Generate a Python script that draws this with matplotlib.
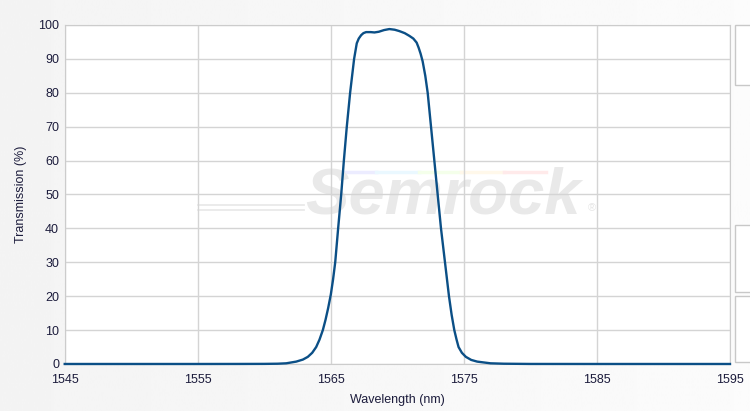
import numpy as np
import matplotlib
matplotlib.use("Agg")
import matplotlib.pyplot as plt
from matplotlib.patches import Rectangle

plt.rcParams['font.family'] = ['Liberation Sans', 'DejaVu Sans']

# Filter transmission
wavelength = [1545, 1550, 1555, 1558, 1560, 1561.0, 1561.65, 1562.4, 1562.9, 1563.27,
              1563.6, 1563.9, 1564.15, 1564.4, 1564.6, 1564.8, 1565.0, 1565.17, 1565.33,
              1565.55, 1565.78, 1565.98, 1566.2, 1566.45, 1566.75, 1566.95, 1567.1,
              1567.28, 1567.45, 1567.65, 1568.0, 1568.28, 1568.6, 1569.0, 1569.4,
              1569.8, 1570.15, 1570.55, 1570.9, 1571.2, 1571.45, 1571.6, 1571.75,
              1571.9, 1572.1, 1572.28, 1572.53, 1572.78, 1573.03, 1573.28, 1573.58,
              1573.88, 1574.08, 1574.28, 1574.45, 1574.6, 1574.85, 1575.15, 1575.55,
              1576.0, 1577.0, 1578, 1580, 1585, 1590, 1595]
transmission = [0, 0, 0, 0.01, 0.03, 0.08, 0.2, 0.7, 1.3, 2.1,
                3.3, 5.0, 7.2, 10, 13, 16.5, 20.5, 25, 30,
                40, 50, 60, 70, 80, 90, 94.6, 96.0,
                97.0, 97.6, 97.9, 97.9, 97.8, 98.0, 98.5, 98.8,
                98.6, 98.2, 97.6, 96.8, 96.0, 94.8, 93.3, 91.5,
                89.3, 85, 80, 70, 60, 50, 40, 30,
                20, 14.5, 10, 7.2, 5.0, 3.3, 2.1, 1.2,
                0.7, 0.2, 0.08, 0.01, 0, 0, 0]

x_ticks = [1545, 1555, 1565, 1575, 1585, 1595]
y_ticks = [0, 10, 20, 30, 40, 50, 60, 70, 80, 90, 100]

text_color = '#1c1c3c'

fig = plt.figure(figsize=(7.5, 4.11), dpi=100)

# light gradient background on the left
bg = fig.add_axes([0, 0, 1, 1], zorder=-10)
grad = np.linspace(0.955, 0.985, 256).reshape(1, -1)
bg.imshow(grad, aspect='auto', cmap='gray', vmin=0, vmax=1, extent=[0, 1, 0, 1])
bg.axis('off')

ax = fig.add_axes([0.0863, 0.1144, 0.8870, 0.8248])
ax.set_facecolor('white')

# watermark
ax.text(1573.4, 49.5, 'Semrock', fontsize=47, fontweight='bold', fontstyle='italic',
        color='#e9e9e9', ha='center', va='center', zorder=0.5)
ax.text(1584.6, 46, '®', fontsize=8, color='#e6e6e6', ha='center', va='center', zorder=0.5)
for yy in (45.4, 46.9):
    ax.plot([1555.0, 1563.0], [yy, yy], color='#e9e9e9', lw=1.3, zorder=0.5)
stripe_colors = ['#ececff', '#eaf8ff', '#f4ffea', '#fff8ea', '#ffeaea']
for i, c in enumerate(stripe_colors):
    x0 = 1565.2 + i * 3.2
    ax.plot([x0, x0 + 3.2], [56.6, 56.6], color=c, lw=2.5, zorder=0.4)

ax.plot(wavelength, transmission, color='#0b4f86', lw=1.7, zorder=3,
        solid_joinstyle='round', clip_on=False)

ax.set_xlim(1545, 1595)
ax.set_ylim(0, 100)
ax.set_xticks(x_ticks)
ax.set_yticks(y_ticks)
ax.grid(True, color='#d4d4d4', lw=1)
ax.set_axisbelow(True)
for s in ax.spines.values():
    s.set_color('#cccccc')
ax.tick_params(length=0, labelsize=9, colors=text_color, pad=4)
ax.tick_params(axis='x', pad=7)
ax.set_xlabel('Wavelength (nm)', fontsize=9, color=text_color, labelpad=6)
ax.set_ylabel('Transmission (%)', fontsize=9, color=text_color, labelpad=8)

# cut-off side panels on the right
for y0, y1 in [(25, 85), (225, 292), (296, 362)]:
    fig.patches.append(Rectangle((735 / 750, 1 - y1 / 411), 0.05, (y1 - y0) / 411,
                                 transform=fig.transFigure, facecolor='white',
                                 edgecolor='#c8c8c8', lw=1))

fig.savefig('out.png', dpi=100)
